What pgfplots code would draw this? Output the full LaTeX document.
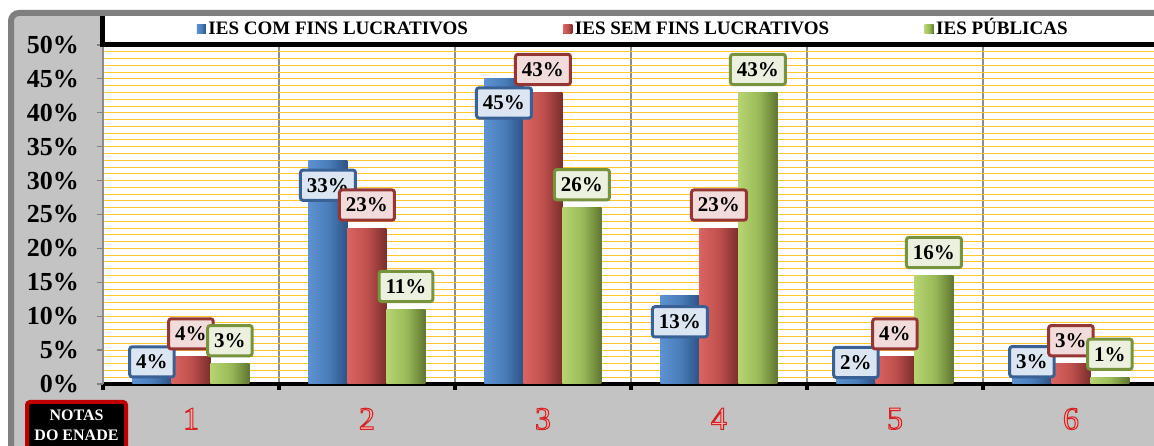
\documentclass[border=0pt]{standalone}
\usepackage{pgfplots}
\usepackage{pgfplotstable}
\pgfplotsset{compat=1.18}
\usepackage{fontspec}
\setmainfont{Liberation Serif}
\definecolor{frameD}{HTML}{7F7F7F}
\definecolor{frameL}{HTML}{C3C3C3}
\definecolor{gridY}{HTML}{FFC72C}
\definecolor{bL}{HTML}{5E90D0}\definecolor{bM}{HTML}{4A7EBB}\definecolor{bR}{HTML}{2E5283}
\definecolor{rL}{HTML}{DA6461}\definecolor{rM}{HTML}{C0504D}\definecolor{rR}{HTML}{7A2E2C}
\definecolor{gL}{HTML}{B7D372}\definecolor{gM}{HTML}{9BBB59}\definecolor{gR}{HTML}{5E7730}
\definecolor{bBd}{HTML}{3A6196}\definecolor{bFl}{HTML}{DCE6F2}
\definecolor{rBd}{HTML}{943634}\definecolor{rFl}{HTML}{F2DCDB}
\definecolor{gBd}{HTML}{77933C}\definecolor{gFl}{HTML}{EBF1DE}
\definecolor{olF}{HTML}{F4B0B0}
\definecolor{nBd}{HTML}{C00000}
\newcommand\fs[1]{\fontsize{#1}{#1}\selectfont}
% outlined digit: pink fill, red stroke (PDF text render mode 2)
\newcommand\ol[1]{\textcolor{olF}{\special{pdf:code q 2 Tr 1.0 w 0.83 0.13 0.13 RG}#1\special{pdf:code Q}}}

\pgfplotstableread{
x y s
0 4 -5
1 33 -25
2 45 -24
3 13 -26
4 2 8
5 3 2
}\blue
\pgfplotstableread{
x y
0 4
1 23
2 43
3 23
4 4
5 3
}\red
\pgfplotstableread{
x y
0 3
1 11
2 26
3 43
4 16
5 1
}\green

\pgfplotsset{
  mylegend/.style={legend image code/.code={\fill[##1] (0pt,-4.5pt) rectangle (9pt,4.5pt);}},
  shb/.style={draw=none, left color=#1L, right color=#1R, middle color=#1M},
}
\tikzset{
  lab/.style={draw=#1Bd, line width=3pt, fill=#1Fl, rounded corners=2.5pt, text=black,
     font=\bfseries\fs{21}, inner xsep=6.5pt, inner ysep=8pt, anchor=center},
}
% one bar: shift, colour prefix, category, value
\newcommand\onebar[4]{\addplot[forget plot, ybar, bar width=39pt, bar shift=#1, shb=#2] coordinates {(#3,#4)};}

\begin{document}
\begin{tikzpicture}[x=1pt,y=1pt]
\clip (0,0) rectangle (1154,446);
\fill[white] (0,0) rectangle (1154,446);
\draw[frameD, line width=6pt, fill=frameL, rounded corners=8pt] (11,-30) rectangle (1200,433);
\fill[white] (103,400) rectangle (1160,430);
\begin{axis}[
  at={(103pt,62pt)}, anchor=south west, scale only axis,
  width=1051pt, height=339pt,
  xmin=-0.5, xmax=5.472, ymin=0, ymax=50,
  axis background/.style={fill=white},
  axis x line*=bottom, axis y line*=left,
  x axis line style={black, line width=3.5pt},
  y axis line style={black!45, line width=1.5pt},
  tick align=outside, major tick length=6pt, minor tick length=0pt,
  ytick={0,5,...,50}, minor y tick num=4,
  yticklabel={\pgfmathprintnumber[assume math mode=true]{\tick}\%},
  yticklabel style={font=\bfseries\fs{26}, inner sep=0pt, xshift=-18pt},
  ytick style={black!50, line width=1.2pt},
  xtick={-0.5,0.5,...,5.5}, xticklabels={},
  xtick style={black, line width=3.5pt},
  extra x ticks={0,1,2,3,4,5},
  extra x tick labels={\ol{1},\ol{2},\ol{3},\ol{4},\ol{5},\ol{6}},
  extra x tick style={grid=none, major tick length=0pt, tick style={draw=none},
     xticklabel style={font=\fs{32}, inner sep=0pt, anchor=north, yshift=-24pt}},
  xmajorgrids, ymajorgrids, yminorgrids,
  every axis x grid/.style={black!45, line width=1.2pt},
  every axis y grid/.style={gridY, line width=1pt},
  legend columns=3,
  legend style={at={(0.5043,1.046)}, anchor=center, draw=none, fill=none,
     font=\bfseries\fs{19}, nodes={inner sep=1.5pt, text height=13pt, text depth=3pt},
     /tikz/every odd column/.append style={column sep=1pt},
     /tikz/every even column/.append style={column sep=94pt}},
]
\addlegendimage{mylegend, shb=b}
\addlegendimage{mylegend, shb=r}
\addlegendimage{mylegend, shb=g}
\legend{IES COM FINS LUCRATIVOS, IES SEM FINS LUCRATIVOS, IES PÚBLICAS}
% IES COM FINS LUCRATIVOS
\onebar{-39pt}{b}{0}{4}\onebar{-39pt}{b}{1}{33}\onebar{-39pt}{b}{2}{45}
\onebar{-39pt}{b}{3}{13}\onebar{-39pt}{b}{4}{2}\onebar{-39pt}{b}{5}{3}
% IES SEM FINS LUCRATIVOS
\onebar{0pt}{r}{0}{4}\onebar{0pt}{r}{1}{23}\onebar{0pt}{r}{2}{43}
\onebar{0pt}{r}{3}{23}\onebar{0pt}{r}{4}{4}\onebar{0pt}{r}{5}{3}
% IES PUBLICAS
\onebar{39pt}{g}{0}{3}\onebar{39pt}{g}{1}{11}\onebar{39pt}{g}{2}{26}
\onebar{39pt}{g}{3}{43}\onebar{39pt}{g}{4}{16}\onebar{39pt}{g}{5}{1}
% data labels
\addplot[forget plot, draw=none, mark=none,
  visualization depends on={\thisrow{s}\as\sh},
  nodes near coords={\pgfmathprintnumber[assume math mode=true]{\pgfplotspointmeta}\%},
  every node near coord/.append style={lab=b, xshift=-39pt, yshift=\sh}] table[x=x,y=y]{\blue};
\addplot[forget plot, draw=none, mark=none,
  nodes near coords={\pgfmathprintnumber[assume math mode=true]{\pgfplotspointmeta}\%},
  every node near coord/.append style={lab=r, yshift=23pt}] table[x=x,y=y]{\red};
\addplot[forget plot, draw=none, mark=none,
  nodes near coords={\pgfmathprintnumber[assume math mode=true]{\pgfplotspointmeta}\%},
  every node near coord/.append style={lab=g, xshift=39pt, yshift=23pt}] table[x=x,y=y]{\green};
\end{axis}
\draw[black, line width=5pt] (102.5,430) -- (102.5,401.5) -- (1160,401.5);
\draw[nBd, line width=4pt, fill=black, rounded corners=3pt] (27,-10) rectangle (126,44);
\node[text=white, font=\bfseries\fontsize{16}{20}\selectfont, align=center] at (76.5,21) {NOTAS\\DO ENADE};
\end{tikzpicture}
\end{document}
